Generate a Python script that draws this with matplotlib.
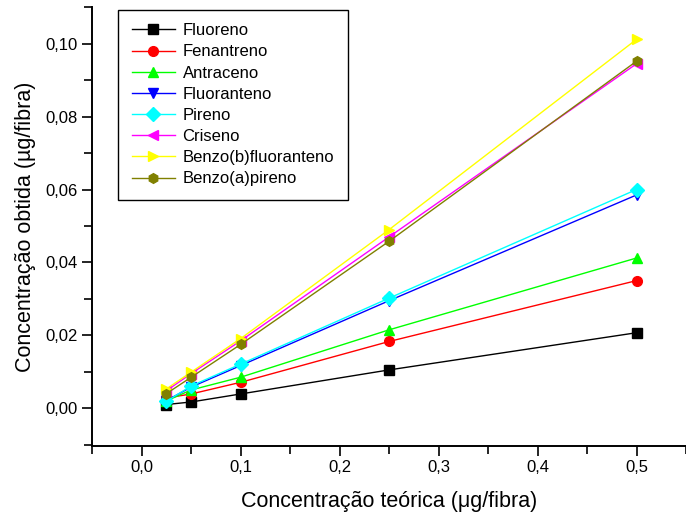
import numpy as np
import matplotlib
matplotlib.use('Agg')
import matplotlib.pyplot as plt
from matplotlib.ticker import FuncFormatter, MultipleLocator

plt.rcParams['font.family'] = ['Liberation Sans', 'DejaVu Sans']

conc = [0.025, 0.05, 0.1, 0.25, 0.5]
nomes = ["Fluoreno", "Fenantreno", "Antraceno", "Fluoranteno", "Pireno",
         "Criseno", "Benzo(b)fluoranteno", "Benzo(a)pireno"]
fluoreno = [0.0010, 0.0017, 0.0039, 0.0105, 0.0207]
fenantreno = [0.0028, 0.0039, 0.0071, 0.0183, 0.0350]
antraceno = [0.0020, 0.0050, 0.0085, 0.0215, 0.0412]
fluoranteno = [0.0021, 0.0058, 0.0117, 0.0295, 0.0585]
pireno = [0.0019, 0.0061, 0.0121, 0.0302, 0.0600]
criseno = [0.0048, 0.0095, 0.0185, 0.0470, 0.0945]
benzo_b = [0.0053, 0.0099, 0.0191, 0.0490, 0.1012]
benzo_a = [0.0040, 0.0085, 0.0175, 0.0458, 0.0952]
series = [fluoreno, fenantreno, antraceno, fluoranteno, pireno, criseno, benzo_b, benzo_a]

cores = ['black', 'red', '#00ff00', 'blue', 'cyan', 'magenta', 'yellow', '#808000']
marcas = ['s', 'o', '^', 'v', 'D', '<', '>', 'h']

fig = plt.figure(figsize=(6.86, 5.17), dpi=100)
ax = fig.add_axes([0.1345, 0.1379, 0.8655, 0.848])

for nome, y, c, m in zip(nomes, series, cores, marcas):
    ax.plot(conc, y, color=c, marker=m, markersize=7, lw=1.0, label=nome,
            markeredgecolor=c)

ax.set_xlim(-0.05, 0.55)
ax.set_ylim(-0.0103, 0.11)
ax.xaxis.set_major_locator(MultipleLocator(0.1))
ax.xaxis.set_minor_locator(MultipleLocator(0.05))
ax.yaxis.set_major_locator(MultipleLocator(0.02))
ax.yaxis.set_minor_locator(MultipleLocator(0.01))
ax.xaxis.set_major_formatter(FuncFormatter(lambda v, p: ("%.1f" % v).replace('.', ',')))
ax.yaxis.set_major_formatter(FuncFormatter(lambda v, p: ("%.2f" % v).replace('.', ',')))
ax.tick_params(which='both', direction='out', labelsize=12, width=1.2)
ax.tick_params(which='major', length=7)
ax.tick_params(which='minor', length=6)
for s in ['top', 'right']:
    ax.spines[s].set_visible(False)
for s in ['left', 'bottom']:
    ax.spines[s].set_linewidth(1.4)

ax.set_xlabel("Concentração teórica (μg/fibra)", fontsize=15.5, labelpad=11)
ax.set_ylabel("Concentração obtida (µg/fibra)", fontsize=15.5, labelpad=7)

leg = ax.legend(loc='upper left', bbox_to_anchor=(0.044, 0.994), borderaxespad=0,
                fontsize=12, handlelength=2.6, handletextpad=0.45, labelspacing=0.37,
                fancybox=False, edgecolor='black', framealpha=1, borderpad=0.8)
leg.get_frame().set_linewidth(1.0)

plt.savefig("out.png", dpi=100)
